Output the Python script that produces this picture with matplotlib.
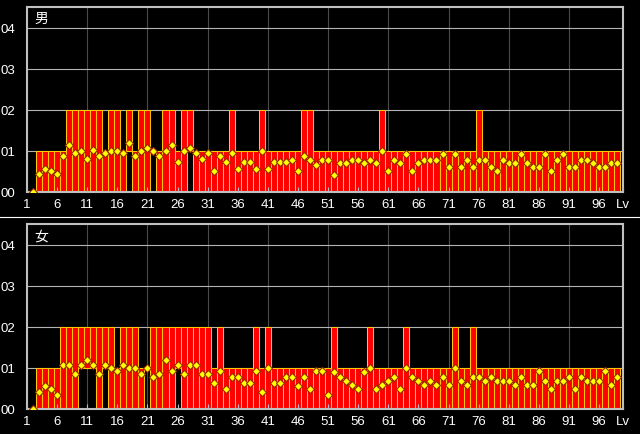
import matplotlib
matplotlib.use("Agg")
import matplotlib.pyplot as plt
from matplotlib.lines import Line2D

plt.rcParams['font.family'] = ['Liberation Sans', 'Noto Sans CJK JP']

# 表示位置 (Lv 2..99)
lv = list(range(2, 100))

# 男: 成長値の最大・最小・平均
male_hi = [0, 1, 1, 1, 1, 1, 2, 2, 2, 2,
           2, 2, 1, 2, 2, 1, 2, 1, 2, 2,
           1, 1, 2, 2, 1, 2, 2, 1, 1, 1,
           1, 1, 1, 2, 1, 1, 1, 1, 2, 1,
           1, 1, 1, 1, 1, 2, 2, 1, 1, 1,
           1, 1, 1, 1, 1, 1, 1, 1, 2, 1,
           1, 1, 1, 1, 1, 1, 1, 1, 1, 1,
           1, 1, 1, 1, 2, 1, 1, 1, 1, 1,
           1, 1, 1, 1, 1, 1, 1, 1, 1, 1,
           1, 1, 1, 1, 1, 1, 1, 1]
male_lo = [0, 0, 0, 0, 0, 0, 0, 0, 0, 0,
           0, 0, 0, 0, 0, 0, 1, 0, 0, 0,
           1, 0, 0, 0, 0, 0, 1, 0, 0, 0] + [0] * 68
male_avg = [0.00, 0.44, 0.57, 0.50, 0.43, 0.87, 1.15, 0.94, 1.00, 0.80,
            1.02, 0.87, 0.94, 1.00, 1.00, 0.94, 1.20, 0.87, 1.00, 1.08,
            1.00, 0.87, 1.00, 1.15, 0.72, 1.00, 1.08, 0.94, 0.80, 0.94,
            0.50, 0.87, 0.72, 0.94, 0.57, 0.72, 0.72, 0.57, 1.00, 0.57,
            0.72, 0.72, 0.72, 0.79, 0.50, 0.87, 0.79, 0.65, 0.79, 0.79,
            0.41, 0.70, 0.70, 0.79, 0.79, 0.70, 0.79, 0.70, 1.00, 0.50,
            0.79, 0.70, 0.92, 0.50, 0.70, 0.79, 0.79, 0.79, 0.92, 0.60,
            0.92, 0.60, 0.79, 0.60, 0.79, 0.79, 0.60, 0.50, 0.79, 0.70,
            0.70, 0.92, 0.70, 0.60, 0.60, 0.92, 0.50, 0.79, 0.92, 0.60,
            0.60, 0.79, 0.79, 0.70, 0.60, 0.60, 0.70, 0.70]

# 女
female_hi = [0, 1, 1, 1, 1, 2, 2, 2, 2, 2,
             2, 2, 2, 2, 1, 2, 2, 2, 1, 1,
             2, 2, 2, 2, 2, 2, 2, 2, 2, 2,
             1, 2, 1, 1, 1, 1, 1, 2, 1, 2,
             1, 1, 1, 1, 1, 1, 1, 1, 1, 1,
             2, 1, 1, 1, 1, 1, 2, 1, 1, 1,
             1, 1, 2, 1, 1, 1, 1, 1, 1, 1,
             2, 1, 1, 2, 1, 1, 1, 1, 1, 1,
             1, 1, 1, 1, 1, 1, 1, 1, 1, 1,
             1, 1, 1, 1, 1, 1, 1, 1]
female_lo = [0, 0, 0, 0, 0, 0, 0, 0, 1, 1,
             1, 0, 1, 0, 0, 0, 0, 0, 0, 1,
             0, 0, 0, 0, 1, 0, 0, 0, 0, 0] + [0] * 68
female_avg = [0.00, 0.42, 0.56, 0.49, 0.34, 1.07, 1.07, 0.86, 1.07, 1.19,
              1.07, 0.86, 1.07, 1.00, 0.93, 1.07, 1.00, 1.00, 0.86, 1.00,
              0.78, 0.86, 1.19, 0.93, 1.07, 0.86, 1.07, 1.07, 0.86, 0.86,
              0.64, 0.93, 0.49, 0.78, 0.78, 0.64, 0.64, 0.93, 0.42, 1.00,
              0.64, 0.64, 0.78, 0.78, 0.56, 0.78, 0.49, 0.93, 0.93, 0.34,
              0.91, 0.78, 0.69, 0.58, 0.49, 0.91, 1.00, 0.49, 0.58, 0.69,
              0.78, 0.49, 1.00, 0.78, 0.69, 0.59, 0.69, 0.59, 0.78, 0.59,
              1.00, 0.69, 0.59, 0.78, 0.78, 0.69, 0.78, 0.69, 0.69, 0.69,
              0.59, 0.78, 0.59, 0.59, 0.92, 0.69, 0.49, 0.69, 0.69, 0.78,
              0.49, 0.78, 0.69, 0.69, 0.69, 0.92, 0.59, 0.78]

xticks = list(range(1, 97, 5))
xlabels = [str(t) for t in xticks]
yticks = [0, 1, 2, 3, 4]
ylabels = ['00', '01', '02', '03', '04']


def draw_panel(ax, lo, hi, avg, title):
    ax.set_facecolor('black')
    for v in range(11, 100, 10):
        ax.axvline(v, color='#4a4a4a', lw=0.8, zorder=1)
    for y in yticks[1:]:
        ax.axhline(y, color='#b4b4b4', lw=0.8, zorder=1)
    heights = [h - l for h, l in zip(hi, lo)]
    ax.bar(lv, heights, bottom=lo, width=1.0, color='#ff0000',
           edgecolor='#ffc800', linewidth=0.75, zorder=2)
    ax.plot(lv, avg, ls='none', marker='D', ms=4.3, mfc='#ffff00',
            mec='#992800', mew=0.8, zorder=3)
    ax.set_xlim(1.0, 99.97)
    ax.set_ylim(0, 4.5)
    ax.set_xticks(xticks + [99.97])
    ax.set_xticklabels(xlabels + ['Lv'])
    ax.set_yticks(yticks)
    ax.set_yticklabels(ylabels)
    ax.set_axisbelow(False)
    ax.tick_params(axis='x', direction='in', length=3.6, width=0.8,
                   color='#b8b8c8', labelcolor='white', labelsize=9.5, pad=4)
    ax.tick_params(axis='y', length=0, labelcolor='white', labelsize=9.5, pad=8.5)
    for s in ax.spines.values():
        s.set_color('#c0c0c0')
        s.set_linewidth(1.5)
    ax.text(0.012, 0.94, title, transform=ax.transAxes, color='white',
            fontsize=10, ha='left', va='center')


fig = plt.figure(figsize=(6.4, 4.35), dpi=100, facecolor='black')
ax1 = fig.add_axes([27 / 640, 1 - 193 / 435, 596 / 640, 185 / 435])
ax2 = fig.add_axes([27 / 640, 1 - 410 / 435, 596 / 640, 185 / 435])

draw_panel(ax1, male_lo, male_hi, male_avg, '男')
draw_panel(ax2, female_lo, female_hi, female_avg, '女')

fig.add_artist(Line2D([0, 1], [0.5, 0.5], color='white', lw=0.8))

fig.savefig('out.png', dpi=100, facecolor='black')
